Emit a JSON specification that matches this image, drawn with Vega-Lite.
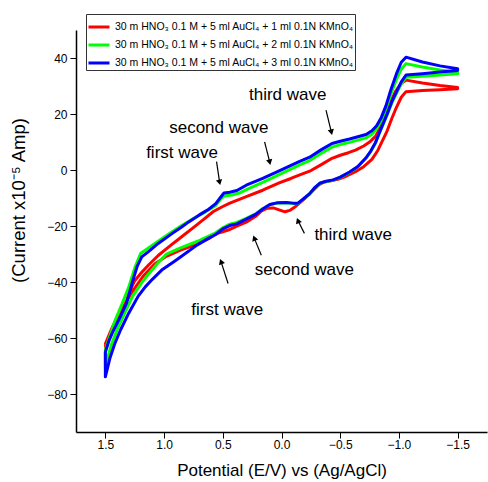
{
  "$schema": "https://vega.github.io/schema/vega-lite/v6.json",
  "width": 411,
  "height": 402,
  "autosize": {"type": "none"},
  "padding": {"left": 76, "top": 30, "right": 1, "bottom": 50},
  "background": "white",
  "config": {
    "view": {"stroke": null},
    "font": "Liberation Sans",
    "axis": {"grid": false, "domain": true, "domainColor": "#000000", "domainWidth": 1.5, "domainOpacity": 1, "tickColor": "black", "tickWidth": 1, "tickSize": 6, "labelColor": "black", "titleColor": "black", "labelFont": "Liberation Sans", "titleFont": "Liberation Sans", "titleFontWeight": "normal", "labelFontSize": 12, "titleFontSize": 17, "zindex": 1}
  },
  "datasets": {
    "curves": [
      {"m":1,"x":1.5,"y":-63},{"m":1,"x":1.46,"y":-58},{"m":1,"x":1.42,"y":-55},{"m":1,"x":1.38,"y":-52},{"m":1,"x":1.33,"y":-48},{"m":1,"x":1.29,"y":-43},{"m":1,"x":1.25,"y":-39.5},{"m":1,"x":1.19,"y":-36.5},{"m":1,"x":1.13,"y":-33.8},{"m":1,"x":1.05,"y":-30.5},{"m":1,"x":0.96,"y":-27.4},{"m":1,"x":0.85,"y":-23.8},{"m":1,"x":0.74,"y":-20.2},{"m":1,"x":0.66,"y":-17.5},{"m":1,"x":0.58,"y":-14.8},{"m":1,"x":0.5,"y":-13},{"m":1,"x":0.44,"y":-11.8},{"m":1,"x":0.3,"y":-9.5},{"m":1,"x":0.16,"y":-7.2},{"m":1,"x":0.02,"y":-4.6},{"m":1,"x":-0.08,"y":-3},{"m":1,"x":-0.15,"y":-1.8},{"m":1,"x":-0.24,"y":-0.4},{"m":1,"x":-0.35,"y":2.2},{"m":1,"x":-0.43,"y":4.2},{"m":1,"x":-0.5,"y":5.3},{"m":1,"x":-0.57,"y":6.2},{"m":1,"x":-0.63,"y":7.1},{"m":1,"x":-0.7,"y":8.6},{"m":1,"x":-0.75,"y":10},{"m":1,"x":-0.8,"y":12},{"m":1,"x":-0.84,"y":15},{"m":1,"x":-0.88,"y":19},{"m":1,"x":-0.92,"y":23.5},{"m":1,"x":-0.97,"y":28},{"m":1,"x":-1.02,"y":31},{"m":1,"x":-1.06,"y":32.1},{"m":1,"x":-1.2,"y":31.1},{"m":1,"x":-1.35,"y":30.2},{"m":1,"x":-1.5,"y":29.5},
      {"m":1,"x":-1.5,"y":29},{"m":1,"x":-1.35,"y":28.7},{"m":1,"x":-1.2,"y":28.4},{"m":1,"x":-1.06,"y":28},{"m":1,"x":-1.02,"y":26},{"m":1,"x":-0.98,"y":22.5},{"m":1,"x":-0.94,"y":18.5},{"m":1,"x":-0.9,"y":14},{"m":1,"x":-0.86,"y":10.5},{"m":1,"x":-0.82,"y":7},{"m":1,"x":-0.77,"y":3.8},{"m":1,"x":-0.7,"y":1.2},{"m":1,"x":-0.63,"y":-0.6},{"m":1,"x":-0.55,"y":-2.2},{"m":1,"x":-0.48,"y":-3.3},{"m":1,"x":-0.42,"y":-3.8},{"m":1,"x":-0.36,"y":-4.3},{"m":1,"x":-0.32,"y":-5.2},{"m":1,"x":-0.28,"y":-6.8},{"m":1,"x":-0.24,"y":-8.5},{"m":1,"x":-0.18,"y":-10.8},{"m":1,"x":-0.12,"y":-13},{"m":1,"x":-0.07,"y":-14.4},{"m":1,"x":-0.03,"y":-14.9},{"m":1,"x":0.02,"y":-14.2},{"m":1,"x":0.07,"y":-13.5},{"m":1,"x":0.12,"y":-13.6},{"m":1,"x":0.17,"y":-14.6},{"m":1,"x":0.22,"y":-16.5},{"m":1,"x":0.3,"y":-18.6},{"m":1,"x":0.38,"y":-20},{"m":1,"x":0.44,"y":-21.2},{"m":1,"x":0.5,"y":-22},{"m":1,"x":0.56,"y":-22.8},{"m":1,"x":0.62,"y":-24.5},{"m":1,"x":0.74,"y":-26.8},{"m":1,"x":0.86,"y":-28.6},{"m":1,"x":0.98,"y":-30.8},{"m":1,"x":1.08,"y":-33.5},{"m":1,"x":1.18,"y":-38},{"m":1,"x":1.28,"y":-44},{"m":1,"x":1.38,"y":-51},{"m":1,"x":1.45,"y":-57},{"m":1,"x":1.5,"y":-62},

      {"m":2,"x":1.5,"y":-70},{"m":2,"x":1.5,"y":-64},{"m":2,"x":1.46,"y":-59},{"m":2,"x":1.42,"y":-54},{"m":2,"x":1.36,"y":-48},{"m":2,"x":1.3,"y":-41.7},{"m":2,"x":1.25,"y":-35},{"m":2,"x":1.2,"y":-29.8},{"m":2,"x":1.1,"y":-26.8},{"m":2,"x":0.96,"y":-22.8},{"m":2,"x":0.85,"y":-19.8},{"m":2,"x":0.75,"y":-17.3},{"m":2,"x":0.65,"y":-15},{"m":2,"x":0.56,"y":-12.6},{"m":2,"x":0.51,"y":-10},{"m":2,"x":0.48,"y":-9.2},{"m":2,"x":0.42,"y":-8.9},{"m":2,"x":0.36,"y":-8.2},{"m":2,"x":0.28,"y":-6.6},{"m":2,"x":0.16,"y":-4.4},{"m":2,"x":0.02,"y":-1.6},{"m":2,"x":-0.15,"y":1.8},{"m":2,"x":-0.24,"y":3.4},{"m":2,"x":-0.34,"y":6},{"m":2,"x":-0.43,"y":8.2},{"m":2,"x":-0.5,"y":9.1},{"m":2,"x":-0.58,"y":9.9},{"m":2,"x":-0.65,"y":10.7},{"m":2,"x":-0.72,"y":11.5},{"m":2,"x":-0.77,"y":12.8},{"m":2,"x":-0.81,"y":14.8},{"m":2,"x":-0.85,"y":17.8},{"m":2,"x":-0.89,"y":22},{"m":2,"x":-0.93,"y":27},{"m":2,"x":-0.98,"y":32.5},{"m":2,"x":-1.02,"y":36},{"m":2,"x":-1.06,"y":38},{"m":2,"x":-1.2,"y":36.8},{"m":2,"x":-1.35,"y":35.7},{"m":2,"x":-1.5,"y":34.8},
      {"m":2,"x":-1.5,"y":34.4},{"m":2,"x":-1.35,"y":33.9},{"m":2,"x":-1.2,"y":33.5},{"m":2,"x":-1.06,"y":33.1},{"m":2,"x":-1.02,"y":30.8},{"m":2,"x":-0.98,"y":27.5},{"m":2,"x":-0.94,"y":24},{"m":2,"x":-0.9,"y":19.8},{"m":2,"x":-0.86,"y":15.8},{"m":2,"x":-0.83,"y":12.8},{"m":2,"x":-0.8,"y":9.6},{"m":2,"x":-0.76,"y":6.6},{"m":2,"x":-0.72,"y":4.3},{"m":2,"x":-0.65,"y":1.2},{"m":2,"x":-0.58,"y":-0.8},{"m":2,"x":-0.5,"y":-2.6},{"m":2,"x":-0.44,"y":-3.6},{"m":2,"x":-0.38,"y":-4.1},{"m":2,"x":-0.33,"y":-4.7},{"m":2,"x":-0.28,"y":-6.5},{"m":2,"x":-0.24,"y":-8.5},{"m":2,"x":-0.18,"y":-10.6},{"m":2,"x":-0.14,"y":-11.9},{"m":2,"x":-0.1,"y":-11.9},{"m":2,"x":-0.04,"y":-11.7},{"m":2,"x":0.04,"y":-11.8},{"m":2,"x":0.1,"y":-12.4},{"m":2,"x":0.16,"y":-13.8},{"m":2,"x":0.22,"y":-15.6},{"m":2,"x":0.3,"y":-17.2},{"m":2,"x":0.38,"y":-18.7},{"m":2,"x":0.44,"y":-19.3},{"m":2,"x":0.5,"y":-20.6},{"m":2,"x":0.56,"y":-22.4},{"m":2,"x":0.62,"y":-23.6},{"m":2,"x":0.72,"y":-25.5},{"m":2,"x":0.86,"y":-27.8},{"m":2,"x":0.98,"y":-30},{"m":2,"x":1.06,"y":-33.5},{"m":2,"x":1.16,"y":-38.5},{"m":2,"x":1.22,"y":-42},{"m":2,"x":1.27,"y":-45.2},{"m":2,"x":1.33,"y":-50.5},{"m":2,"x":1.4,"y":-57},{"m":2,"x":1.45,"y":-62.5},{"m":2,"x":1.5,"y":-70},

      {"m":3,"x":1.5,"y":-73.8},{"m":3,"x":1.5,"y":-65},{"m":3,"x":1.47,"y":-61},{"m":3,"x":1.44,"y":-58},{"m":3,"x":1.38,"y":-53},{"m":3,"x":1.32,"y":-47.6},{"m":3,"x":1.27,"y":-40},{"m":3,"x":1.23,"y":-34.5},{"m":3,"x":1.19,"y":-31},{"m":3,"x":1.13,"y":-29},{"m":3,"x":1.05,"y":-26.2},{"m":3,"x":0.93,"y":-22.6},{"m":3,"x":0.85,"y":-20.3},{"m":3,"x":0.79,"y":-18.5},{"m":3,"x":0.7,"y":-16},{"m":3,"x":0.62,"y":-14},{"m":3,"x":0.56,"y":-12},{"m":3,"x":0.52,"y":-9.8},{"m":3,"x":0.49,"y":-8.2},{"m":3,"x":0.44,"y":-7.9},{"m":3,"x":0.38,"y":-7.3},{"m":3,"x":0.3,"y":-5.4},{"m":3,"x":0.16,"y":-3},{"m":3,"x":0.02,"y":-0.3},{"m":3,"x":-0.15,"y":3},{"m":3,"x":-0.24,"y":4.6},{"m":3,"x":-0.34,"y":7.3},{"m":3,"x":-0.43,"y":9.5},{"m":3,"x":-0.5,"y":10.3},{"m":3,"x":-0.58,"y":11.1},{"m":3,"x":-0.65,"y":11.9},{"m":3,"x":-0.72,"y":12.7},{"m":3,"x":-0.77,"y":14},{"m":3,"x":-0.81,"y":15.8},{"m":3,"x":-0.85,"y":18.8},{"m":3,"x":-0.89,"y":23},{"m":3,"x":-0.93,"y":28.5},{"m":3,"x":-0.98,"y":34.5},{"m":3,"x":-1.02,"y":38.5},{"m":3,"x":-1.06,"y":40.3},{"m":3,"x":-1.2,"y":38.6},{"m":3,"x":-1.35,"y":37.2},{"m":3,"x":-1.5,"y":36.2},
      {"m":3,"x":-1.5,"y":35.5},{"m":3,"x":-1.35,"y":35},{"m":3,"x":-1.2,"y":34.4},{"m":3,"x":-1.06,"y":33.9},{"m":3,"x":-1.02,"y":31.5},{"m":3,"x":-0.98,"y":28},{"m":3,"x":-0.94,"y":24.5},{"m":3,"x":-0.9,"y":20},{"m":3,"x":-0.86,"y":16},{"m":3,"x":-0.83,"y":13},{"m":3,"x":-0.8,"y":9.8},{"m":3,"x":-0.76,"y":6.8},{"m":3,"x":-0.72,"y":4.4},{"m":3,"x":-0.65,"y":1.3},{"m":3,"x":-0.58,"y":-0.7},{"m":3,"x":-0.5,"y":-2.5},{"m":3,"x":-0.44,"y":-3.5},{"m":3,"x":-0.38,"y":-4},{"m":3,"x":-0.33,"y":-4.6},{"m":3,"x":-0.28,"y":-6.4},{"m":3,"x":-0.24,"y":-8.4},{"m":3,"x":-0.18,"y":-10.5},{"m":3,"x":-0.14,"y":-11.8},{"m":3,"x":-0.1,"y":-11.8},{"m":3,"x":-0.04,"y":-11.6},{"m":3,"x":0.04,"y":-11.7},{"m":3,"x":0.1,"y":-12.3},{"m":3,"x":0.16,"y":-13.9},{"m":3,"x":0.22,"y":-15.8},{"m":3,"x":0.3,"y":-17.5},{"m":3,"x":0.38,"y":-19.2},{"m":3,"x":0.44,"y":-19.8},{"m":3,"x":0.5,"y":-21},{"m":3,"x":0.56,"y":-23},{"m":3,"x":0.62,"y":-24.3},{"m":3,"x":0.72,"y":-26.8},{"m":3,"x":0.86,"y":-31},{"m":3,"x":0.92,"y":-32.8},{"m":3,"x":1.02,"y":-35.7},{"m":3,"x":1.1,"y":-39},{"m":3,"x":1.16,"y":-41.7},{"m":3,"x":1.22,"y":-45},{"m":3,"x":1.3,"y":-51},{"m":3,"x":1.37,"y":-57},{"m":3,"x":1.42,"y":-62},{"m":3,"x":1.46,"y":-67},{"m":3,"x":1.5,"y":-73.8}
    ],
    "notes": [
      {"g":"up","t":"third wave","tx":-0.053,"ty":26.8,"ax":-0.379,"ay":21.4,"hx":-0.425,"hy":13.5},
      {"g":"up","t":"second wave","tx":0.534,"ty":14.9,"ax":0.144,"ay":10.1,"hx":0.1,"hy":2.8},
      {"g":"up","t":"first wave","tx":0.847,"ty":6.0,"ax":0.553,"ay":3.0,"hx":0.527,"hy":-4.4},
      {"g":"low","t":"third wave","tx":-0.61,"ty":-23.2,"ax":-0.195,"ay":-22.6,"hx":-0.14,"hy":-18},
      {"g":"low","t":"second wave","tx":-0.195,"ty":-35.5,"ax":0.172,"ay":-30.4,"hx":0.232,"hy":-24.3},
      {"g":"low","t":"first wave","tx":0.462,"ty":-50,"ax":0.455,"ay":-40.5,"hx":0.515,"hy":-32.7}
    ]
  },
  "layer": [
    {
      "data": {"name": "curves"},
      "mark": {"type": "line", "strokeWidth": 3, "strokeJoin": "round", "strokeCap": "round", "clip": true},
      "encoding": {
        "x": {"field": "x", "type": "quantitative",
          "scale": {"domain": [-1.75, 1.75], "reverse": true, "nice": false, "zero": false},
          "axis": {"title": "Potential (E/V) vs (Ag/AgCl)",
            "values": [1.5,1.0,0.5,0,-0.5,-1.0,-1.5],
            "format": ".1f",
            "labelPadding": 1, "titleY": 43, "titleBaseline": "alphabetic"}},
        "y": {"field": "y", "type": "quantitative",
          "scale": {"domain": [-93.5, 50], "nice": false, "zero": false},
          "axis": {"title": "(Current x10⁻⁵ Amp)",
            "values": [-80,-60,-40,-20,0,20,40],
            "format": "d",
            "labelPadding": 3, "titleFontSize": 18.5, "titleX": -48, "titleY": 170, "titleAlign": "center", "titleAngle": 270, "titleBaseline": "bottom"}},
        "color": {"field": "m", "type": "nominal",
          "scale": {"domain": [1, 2, 3], "range": ["#ff0000", "#00ff00", "#0000ff"]},
          "legend": {"title": null, "orient": "none", "legendX": 10, "legendY": -16,
            "labelExpr": "'30 m HNO₃ 0.1 M + 5 ml AuCl₄ + ' + datum.label + ' ml 0.1N KMnO₄'",
            "symbolType": "stroke", "symbolSize": 441, "symbolStrokeWidth": 3,
            "labelFontSize": 10.5, "labelFont": "Liberation Sans", "labelColor": "black", "labelLimit": 400,
            "strokeColor": "#333333", "fillColor": "white", "padding": 1, "rowPadding": -3, "labelOffset": 4}},
        "order": {"value": null}
      }
    },
    {
      "data": {"name": "notes"},
      "mark": {"type": "text", "fontSize": 17, "font": "Liberation Sans", "color": "black", "align": "center", "baseline": "middle"},
      "encoding": {
        "x": {"field": "tx", "type": "quantitative"},
        "y": {"field": "ty", "type": "quantitative"},
        "text": {"field": "t"}
      }
    },
    {
      "data": {"name": "notes"},
      "mark": {"type": "rule", "color": "black", "strokeWidth": 1.2},
      "encoding": {
        "x": {"field": "ax", "type": "quantitative"},
        "y": {"field": "ay", "type": "quantitative"},
        "x2": {"field": "hx"},
        "y2": {"field": "hy"}
      }
    },
    {
      "data": {"name": "notes"},
      "transform": [{"filter": "datum.g === 'up'"}],
      "mark": {"type": "point", "shape": "triangle-up", "filled": true, "color": "black", "size": 40, "angle": 167, "opacity": 1},
      "encoding": {
        "x": {"field": "hx", "type": "quantitative"},
        "y": {"field": "hy", "type": "quantitative"}
      }
    },
    {
      "data": {"name": "notes"},
      "transform": [{"filter": "datum.g === 'low'"}],
      "mark": {"type": "point", "shape": "triangle-up", "filled": true, "color": "black", "size": 40, "angle": -21, "opacity": 1},
      "encoding": {
        "x": {"field": "hx", "type": "quantitative"},
        "y": {"field": "hy", "type": "quantitative"}
      }
    }
  ]
}
